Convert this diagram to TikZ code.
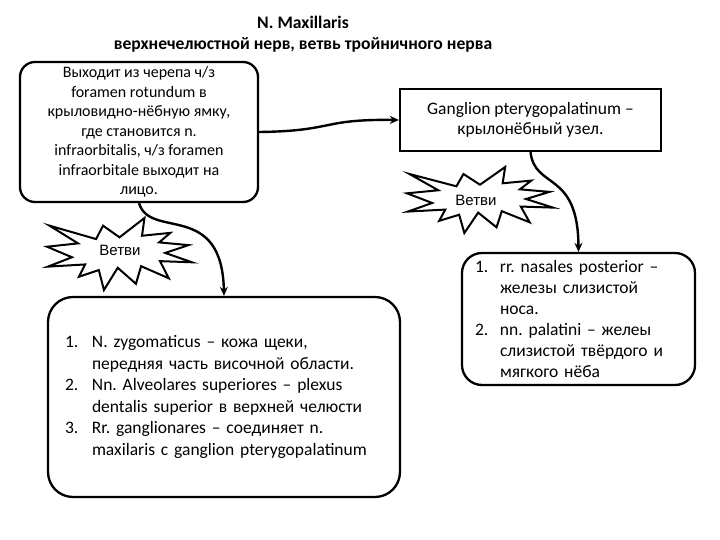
\documentclass[tikz,border=0pt]{standalone}
\usepackage{fontspec}
\setmainfont{Carlito}
\newfontfamily\starfont{Liberation Sans}
\usetikzlibrary{arrows.meta}
\frenchspacing
\tikzset{
  boxline/.style={draw=black, line width=2.3pt},
  roundbox/.style={boxline, rounded corners=#1, fill=white},
  conn/.style={line width=2.4pt, -{Stealth[length=9pt,width=8pt]}},
  starline/.style={draw=black, line width=2pt, line join=miter, fill=white},
  startext/.style={font=\starfont\fontsize{15}{18}\selectfont},
  titletext/.style={font=\bfseries\fontsize{17.6}{21}\selectfont},
  explosion/.pic={
    \path[starline] (50,26.85) -- (67.23,0) -- (65.53,24.65) -- (85.09,20.63) -- (77.32,33.87)
      -- (97.67,37.67) -- (81.51,48.50) -- (100,61.53) -- (77.95,59.92) -- (84.00,83.77)
      -- (64.91,66.93) -- (61.33,91.38) -- (48.76,69.14) -- (39.28,100) -- (35.72,72.35)
      -- (22.05,81.56) -- (26.24,64.52) -- (0.63,67.53) -- (17.23,54.51) -- (0,39.88)
      -- (21.42,35.26) -- (1.71,10.63) -- (33.85,29.26) -- (38.67,10.63) -- cycle;
  }
}
\begin{document}
\begin{tikzpicture}[x=1pt,y=-1pt]
\useasboundingbox (0,0) rectangle (720,540);
\fill[white] (0,0) rectangle (720,540);

% title
\node[titletext] (title1) at (303,22) {N. Maxillaris};
\node[titletext] (title2) at (303,45) {верхнечелюстной нерв, ветвь тройничного нерва};

% left box
\node[roundbox=15pt, minimum width=238pt, minimum height=140pt, inner sep=0pt,
      align=center, font=\fontsize{16}{19.5}\selectfont] (lb) at (139,132)
  {Выходит из черепа ч/з\\foramen rotundum в\\крыловидно-нёбную ямку,\\где становится n.\\infraorbitalis, ч/з foramen\\infraorbitale выходит на\\лицо.};

% right box
\node[boxline, fill=white, minimum width=261pt, minimum height=62pt, inner sep=0pt,
      align=center, font=\fontsize{17.5}{20}\selectfont] (rb) at (530.5,120)
  {Ganglion pterygopalatinum –\\крылонёбный узел.};

% bottom left box
\node[roundbox=25pt, minimum width=352pt, minimum height=200pt, inner xsep=17pt, inner ysep=2pt,
      text width=318pt, align=left, font=\fontsize{17.5}{21.5}\selectfont] (blb) at (224,397)
  {\mbox{\makebox[27pt][l]{1.}N. zygomaticus – кожа щеки,}\\
   \mbox{\hspace*{27pt}передняя часть височной области.}\\
   \mbox{\makebox[27pt][l]{2.}Nn. Alveolares superiores – plexus}\\
   \mbox{\hspace*{27pt}dentalis superior в верхней челюсти}\\
   \mbox{\makebox[27pt][l]{3.}Rr. ganglionares – соединяет n.}\\
   \mbox{\hspace*{27pt}maxilaris c ganglion pterygopalatinum}};

% bottom right box
\node[roundbox=20pt, minimum width=233pt, minimum height=132pt, inner xsep=13pt, inner ysep=2pt,
      text width=207pt, align=left, font=\fontsize{17.5}{21}\selectfont] (brb) at (578.5,319)
  {\mbox{\makebox[25pt][l]{1.}rr. nasales posterior –}\\
   \mbox{\hspace*{25pt}железы слизистой}\\
   \mbox{\hspace*{25pt}носа.}\\
   \mbox{\makebox[25pt][l]{2.}nn. palatini – желеы}\\
   \mbox{\hspace*{25pt}слизистой твёрдого и}\\
   \mbox{\hspace*{25pt}мягкого нёба}};

% stars
\begin{scope}[shift={(47,218)}, x={(1.45,0)}, y={(0,0.72)}]
  \pic {explosion};
\end{scope}
\node[startext] (s1) at (120,250) {Ветви};
\begin{scope}[shift={(407,167)}, x={(1.46,0)}, y={(0,0.66)}]
  \pic {explosion};
\end{scope}
\node[startext] (s2) at (476,200) {Ветви};

% connectors
\draw[conn] (lb.east) .. controls (335,131) and (320,119) .. (rb.west);
\draw[conn] (lb.south) .. controls (150,240) and (222,200) .. (blb.north);
\draw[conn] (rb.south) .. controls (535,190) and (578,170) .. (brb.north);
\end{tikzpicture}
\end{document}
